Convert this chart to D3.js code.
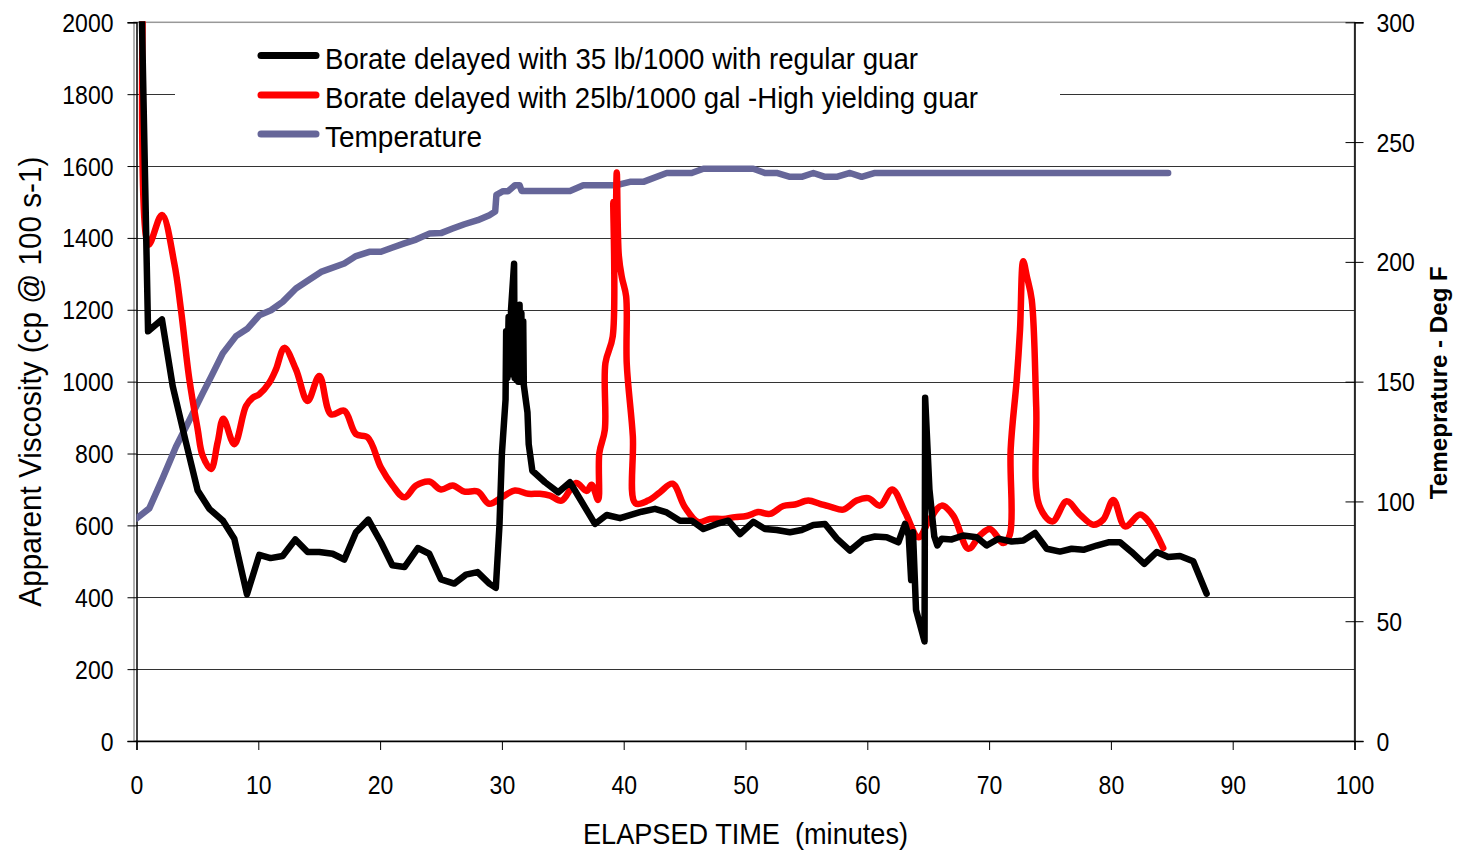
<!DOCTYPE html>
<html>
<head>
<meta charset="utf-8">
<script src="https://cdn.jsdelivr.net/npm/d3@7"></script>
<style>
  body { margin: 0; background: #fff; }
  svg { display: block; }
  text { font-family: "Liberation Sans", Arial, sans-serif; fill: #000; }
</style>
</head>
<body>
<svg id="chart" width="1457" height="851"></svg>
<script>
// ---- Data -------------------------------------------------------------
// Borate delayed with 35 lb/1000, regular guar (elapsed minutes, cP)
const regularGuarTime = [0.45, 0.95, 2.09, 2.97, 4.06, 5.02, 5.98, 7.1, 8.03, 9.07, 10.08, 11.0, 12.0, 13.04, 14.05, 15.01, 16.1, 17.06, 18.02, 19.03, 20.07, 21.0, 22.0, 23.1, 24.04, 25.0, 26.09, 27.05, 28.0, 28.97, 29.5,
  29.8, 30.0, 30.3, 30.35, 30.45, 30.55, 30.65, 30.75, 31.0, 31.05, 31.15, 31.2, 31.3, 31.35, 31.45, 31.5, 31.6, 31.65, 31.75, 31.8, 32.1, 32.2, 32.5, 33.54, 34.63, 35.59, 37.64, 38.6, 39.7, 41.47, 42.57, 43.53, 44.62, 45.58, 46.54, 47.63, 48.59, 49.55, 50.64, 51.6, 52.56, 53.65, 54.61, 55.57, 56.53, 57.48, 58.58, 59.67, 60.63, 61.59, 62.55,
  63.1, 63.4, 63.6, 63.75, 64.0, 64.7, 64.75, 65.1, 65.5, 65.75, 66.1, 66.93, 67.88, 68.98, 69.8, 70.76, 71.85, 72.81, 73.77, 74.73, 75.82, 76.78, 77.74, 78.83, 79.79, 80.75, 81.7, 82.74, 83.76, 84.7, 85.67, 86.76, 87.86];
const regularGuarVisc = [2000, 1140, 1173, 988, 831, 697, 646, 613, 563, 408, 518, 509, 515, 561, 526, 526, 521, 505, 581, 616, 553, 489, 484, 537, 521, 450, 438, 463, 470, 438, 426,
  600, 800, 950, 1140, 1010, 1180, 1020, 1200, 1328, 1010, 1190, 1005, 1200, 1000, 1214, 1000, 1190, 1005, 1168, 990, 914, 826, 752, 720, 692, 720, 604, 629, 620, 638, 646, 636, 613, 613, 590, 604, 613, 576, 610, 590, 587, 581, 587, 601, 604, 564, 530, 561, 569, 567, 553,
  604, 571, 448, 581, 365, 277, 955, 700, 569, 544, 563, 561, 572, 567, 544, 563, 555, 558, 579, 535, 527, 535, 532, 544, 553, 553, 526, 493, 526, 512, 515, 500, 410];

// Borate delayed with 25 lb/1000 gal, high yielding guar (elapsed minutes, cP)
const highYieldTime = [0.5, 0.99, 2.09, 3.1, 3.65, 4.34, 5.02, 5.43, 6.12, 6.66, 7.13, 8.03, 8.99, 9.54, 10.08, 10.9, 11.45, 12.14, 13.09, 14.05, 15.01, 15.97, 17.06, 18.02, 18.98, 20.07, 21.03, 21.99, 22.95, 24.04, 25.0, 25.96, 26.92, 28.01, 28.97, 29.98, 31.07, 32.17, 33.12, 33.95, 34.9, 36.08, 36.96, 37.37, 37.9,
  38.0, 38.45, 38.5, 39.1, 39.15, 39.3, 39.43, 39.6, 39.85, 40.2, 40.25, 40.75, 40.95, 42.0, 42.97, 44.01, 45.02, 46.12, 47.08, 48.17, 49.13, 50.09, 51.04, 52.0, 53.1, 54.06, 55.15, 56.11, 57.07, 58.03, 59.12, 60.08, 61.04, 62.05, 63.1, 64.2, 65.15, 66.1, 67.06, 68.3, 69.25, 70.07, 71.17, 71.7,
  71.77, 72.27, 72.54, 72.8, 73.1, 73.5, 73.87, 74.1, 75.2, 76.37, 77.46, 78.55, 79.37, 80.2, 81.16, 82.4, 83.2, 84.3];
const highYieldVisc = [2000, 1381, 1464, 1330, 1200, 1006, 868, 794, 757, 831, 897, 826, 932, 955, 965, 997, 1034, 1094, 1034, 946, 1016, 909, 919, 854, 845, 761, 711, 678, 711, 722, 700, 711, 694, 694, 660, 678, 697, 688, 688, 683, 669, 718, 696, 713, 671,
  801, 866, 1052, 1126, 1500, 1350, 1582, 1350, 1290, 1237, 1050, 848, 662, 669, 692, 716, 651, 609, 618, 618, 623, 626, 637, 632, 654, 658, 669, 660, 651, 644, 669, 676, 655, 700, 637, 567, 618, 655, 627, 535, 572, 590, 551, 574,
  811, 1006, 1145, 1335, 1293, 1228, 928, 657, 611, 667, 630, 602, 616, 671, 597, 630, 606, 537];

// Temperature (elapsed minutes, deg F)
const tempTime = [0, 1.05, 2.14, 3.24, 4.34, 5.43, 6.12, 7.08, 8.17, 9.13, 10.08, 11.04, 12.0, 13.09, 14.05, 15.15, 17.06, 18.02, 19.11, 20.07, 21.03, 21.99, 22.95, 24.04, 25.0, 25.96, 26.92, 28.01, 28.97, 29.45, 29.55, 30.1, 30.5, 31.07, 31.45, 31.62, 35.59, 36.68, 39.42, 40.51, 41.61, 43.53, 45.58, 46.54, 50.64, 51.6, 52.56, 53.65, 54.61, 55.57, 56.53, 57.48, 58.58, 59.54, 60.63, 84.7];
const tempDegF = [92.9, 97.1, 109.6, 122.8, 133.9, 145.1, 152, 161.8, 169, 172.2, 177.7, 179.8, 183.3, 188.9, 192.1, 195.8, 199.3, 202.4, 204.2, 204.2, 206, 207.7, 209.3, 211.8, 212, 213.9, 215.7, 217.4, 219.5, 221, 228, 229.5, 229.5, 232, 232, 229.6, 229.6, 232, 232, 233.4, 233.4, 237.1, 237.1, 238.9, 238.9, 237.1, 237.1, 235.5, 235.5, 237.1, 235.5, 235.5, 237.1, 235.5, 237.1, 237.1];

// Axis ticks
const timeTicks = [0, 10, 20, 30, 40, 50, 60, 70, 80, 90, 100];
const viscTicks = [0, 200, 400, 600, 800, 1000, 1200, 1400, 1600, 1800, 2000];
const tempTicks = [0, 50, 100, 150, 200, 250, 300];

// Legend entries
const seriesNames = [
  "Borate delayed with 35 lb/1000 with regular guar",
  "Borate delayed with 25lb/1000 gal -High yielding guar",
  "Temperature"
];
const seriesColors = ["#000000", "#ff0000", "#666699"];

// ---- Layout -----------------------------------------------------------
const svg = d3.select("#chart");
const plot = { left: 136.5, right: 1354.5, top: 22.3, bottom: 741 };

const x = d3.scaleLinear().domain([0, 100]).range([plot.left, plot.right]);
const yV = d3.scaleLinear().domain([0, 2000]).range([plot.bottom, plot.top]);
const yT = d3.scaleLinear().domain([0, 300]).range([plot.bottom, plot.top]);

const zip = (a, b) => a.map((t, i) => [t, b[i]]);

// squeeze a text element horizontally to a target width
function fitWidth(sel, w) {
  sel.attr("textLength", w).attr("lengthAdjust", "spacingAndGlyphs");
}

svg.append("defs").append("clipPath").attr("id", "plotClip")
  .append("rect")
  .attr("x", plot.left).attr("y", plot.top - 1)
  .attr("width", plot.right - plot.left).attr("height", plot.bottom - plot.top + 1);

// plot frame
svg.append("rect")
  .attr("x", plot.left - 2.5).attr("y", plot.top)
  .attr("width", plot.right - plot.left + 2.5).attr("height", plot.bottom - plot.top)
  .attr("fill", "none").attr("stroke", "#999").attr("stroke-width", 1.5);

// horizontal gridlines
svg.append("g").selectAll("line")
  .data(viscTicks.filter(v => v > 0 && v < 2000))
  .join("line")
  .attr("x1", plot.left).attr("x2", plot.right)
  .attr("y1", d => Math.round(yV(d)) + 0.5).attr("y2", d => Math.round(yV(d)) + 0.5)
  .attr("stroke", "#333").attr("stroke-width", 1);

// legend background hides gridlines behind it
svg.append("rect")
  .attr("x", 175).attr("y", 30).attr("width", 885).attr("height", 126)
  .attr("fill", "#fff");

// ---- Axes -------------------------------------------------------------
const fmt = d3.format("d");

const gLeft = svg.append("g").attr("transform", `translate(${plot.left},0)`)
  .call(d3.axisLeft(yV).tickValues(viscTicks).tickFormat(fmt).tickSizeOuter(0).tickSize(9));
gLeft.select(".domain").attr("stroke", "#000").attr("stroke-width", 1.5);
gLeft.selectAll(".tick line").attr("stroke", "#000");
gLeft.selectAll(".tick text")
  .attr("x", -23).attr("dy", null).attr("y", 9)
  .style("font-size", "25px")
  .each(function (d) { fitWidth(d3.select(this), String(fmt(d)).length * 12.8); });

const gBottom = svg.append("g").attr("transform", `translate(0,${plot.bottom})`)
  .call(d3.axisBottom(x).tickValues(timeTicks).tickFormat(fmt).tickSizeOuter(0).tickSize(9));
gBottom.select(".domain").attr("stroke", "#000").attr("stroke-width", 1.5);
gBottom.selectAll(".tick line").attr("stroke", "#000");
gBottom.selectAll(".tick text")
  .attr("y", 53).attr("dy", null)
  .style("font-size", "25px")
  .each(function (d) { fitWidth(d3.select(this), String(fmt(d)).length * 12.8); });

const gRight = svg.append("g").attr("transform", `translate(${plot.right},0)`)
  .call(d3.axisRight(yT).tickValues(tempTicks).tickFormat(fmt).tickSizeOuter(0).tickSize(9));
gRight.select(".domain").attr("stroke", "#000").attr("stroke-width", 1.5);
gRight.selectAll(".tick line").attr("stroke", "#000").attr("x1", -9).attr("x2", 9);
gRight.selectAll(".tick text")
  .attr("x", 22).attr("dy", null).attr("y", 9)
  .style("font-size", "25px")
  .each(function (d) { fitWidth(d3.select(this), String(fmt(d)).length * 12.8); });

svg.selectAll(".tick text").attr("font-family", null);

// axis titles
svg.append("text")
  .attr("transform", `translate(41,${(plot.top + plot.bottom) / 2}) rotate(-90)`)
  .attr("text-anchor", "middle")
  .style("font-size", "32px")
  .text("Apparent Viscosity (cp @ 100 s-1)")
  .call(fitWidth, 450);

svg.append("text")
  .attr("x", (plot.left + plot.right) / 2).attr("y", 844)
  .attr("text-anchor", "middle")
  .style("font-size", "30px").style("white-space", "pre")
  .text("ELAPSED TIME  (minutes)")
  .call(fitWidth, 325);

svg.append("text")
  .attr("transform", `translate(1447,${(plot.top + plot.bottom) / 2 + 1}) rotate(-90)`)
  .attr("text-anchor", "middle")
  .style("font-size", "24px").style("font-weight", "bold")
  .text("Temeprature - Deg F")
  .call(fitWidth, 233);

// ---- Series -----------------------------------------------------------
const gData = svg.append("g").attr("clip-path", "url(#plotClip)");

const lineTemp = d3.line().x(d => x(d[0])).y(d => yT(d[1]));
const lineVisc = d3.line().x(d => x(d[0])).y(d => yV(d[1]));
const lineViscSmooth = d3.line().x(d => x(d[0])).y(d => yV(d[1])).curve(d3.curveCatmullRom.alpha(0.5));

gData.append("path")
  .datum(zip(tempTime, tempDegF))
  .attr("d", lineTemp)
  .attr("fill", "none").attr("stroke", seriesColors[2]).attr("stroke-width", 6.5)
  .attr("stroke-linejoin", "round").attr("stroke-linecap", "round");

gData.append("path")
  .datum(zip(highYieldTime, highYieldVisc))
  .attr("d", lineViscSmooth)
  .attr("fill", "none").attr("stroke", seriesColors[1]).attr("stroke-width", 6.5)
  .attr("stroke-linejoin", "round").attr("stroke-linecap", "round");

gData.append("path")
  .datum(zip(regularGuarTime, regularGuarVisc))
  .attr("d", lineVisc)
  .attr("fill", "none").attr("stroke", seriesColors[0]).attr("stroke-width", 6.5)
  .attr("stroke-linejoin", "round").attr("stroke-linecap", "round");

// ---- Legend -----------------------------------------------------------
const legendWidths = [593, 653, 157];
const legend = svg.append("g");
const rows = legend.selectAll("g").data(seriesNames).join("g")
  .attr("transform", (d, i) => `translate(0,${[55.5, 95, 134][i]})`);
rows.append("line")
  .attr("x1", 261).attr("x2", 316).attr("y1", 0).attr("y2", 0)
  .attr("stroke", (d, i) => seriesColors[i]).attr("stroke-width", 7)
  .attr("stroke-linecap", "round");
rows.append("text")
  .attr("x", 325).attr("y", 13)
  .style("font-size", "30px")
  .text(d => d)
  .each(function (d, i) { fitWidth(d3.select(this), legendWidths[i]); });
</script>
</body>
</html>
